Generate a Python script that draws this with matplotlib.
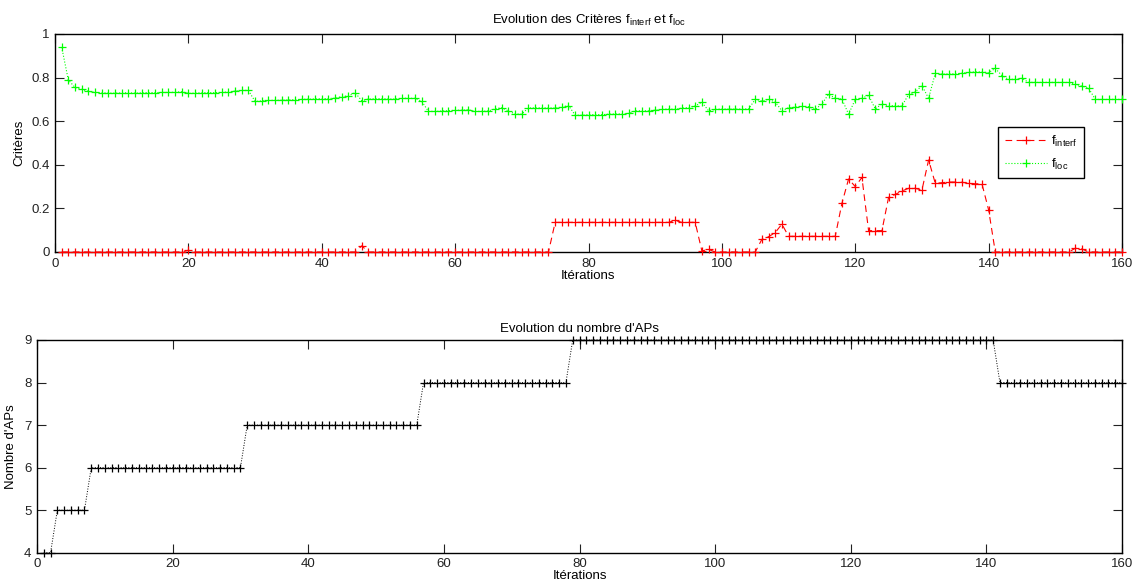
"""
Evolution des critères f_interf / f_loc et du nombre d'APs
"""

import matplotlib
matplotlib.use("Agg")
import matplotlib.pyplot as plt
from matplotlib.ticker import FormatStrFormatter

plt.rcParams["font.family"] = ["Liberation Sans", "DejaVu Sans"]
plt.rcParams["mathtext.fontset"] = "custom"
plt.rcParams["mathtext.rm"] = "Liberation Sans"
plt.rcParams["mathtext.it"] = "Liberation Sans"

FONT_SIZE = 9.5

# ---------------------------------------------------------------------------
# Data, iterations 1..160
# ---------------------------------------------------------------------------

iterations = list(range(1, 161))

f_interf = [
    0, 0, 0, 0, 0, 0, 0, 0, 0, 0, 0, 0, 0, 0, 0, 0, 0, 0, 0, 0.008,       # 1-20
    0, 0, 0, 0, 0, 0, 0, 0, 0, 0, 0, 0, 0, 0, 0, 0, 0, 0, 0, 0,           # 21-40
    0, 0, 0, 0, 0, 0.028, 0, 0, 0, 0, 0, 0, 0, 0, 0, 0, 0, 0, 0, 0,       # 41-60
    0, 0, 0, 0, 0, 0, 0, 0, 0, 0, 0, 0, 0, 0, 0.136, 0.136, 0.136, 0.136, 0.136, 0.136,  # 61-80
    0.136, 0.136, 0.136, 0.136, 0.136, 0.136, 0.136, 0.136, 0.136, 0.136,
    0.136, 0.136, 0.145, 0.136, 0.136, 0.136, 0.005, 0.012, 0, 0,         # 81-100
    0, 0, 0, 0, 0, 0.058, 0.07, 0.089, 0.128, 0.072,
    0.072, 0.072, 0.072, 0.072, 0.072, 0.072, 0.072, 0.223, 0.335, 0.30,  # 101-120
    0.342, 0.098, 0.098, 0.098, 0.251, 0.264, 0.28, 0.292, 0.292, 0.284,
    0.422, 0.315, 0.318, 0.321, 0.321, 0.320, 0.315, 0.313, 0.313, 0.193, # 121-140
    0, 0, 0, 0, 0, 0, 0, 0, 0, 0,
    0, 0, 0.017, 0.014, 0, 0, 0, 0, 0, 0,                                 # 141-160
]

f_loc = [
    0.94, 0.789, 0.755, 0.746, 0.737, 0.732, 0.730, 0.729, 0.729, 0.730,
    0.730, 0.729, 0.730, 0.731, 0.731, 0.732, 0.732, 0.733, 0.735, 0.728,  # 1-20
    0.729, 0.730, 0.731, 0.731, 0.732, 0.734, 0.739, 0.741, 0.741, 0.691,
    0.693, 0.695, 0.696, 0.697, 0.698, 0.699, 0.700, 0.701, 0.702, 0.703,  # 21-40
    0.704, 0.706, 0.713, 0.716, 0.731, 0.694, 0.702, 0.703, 0.703, 0.702,
    0.702, 0.705, 0.705, 0.705, 0.691, 0.645, 0.645, 0.647, 0.648, 0.650,  # 41-60
    0.651, 0.653, 0.645, 0.645, 0.647, 0.657, 0.662, 0.647, 0.633, 0.633,
    0.661, 0.661, 0.661, 0.661, 0.661, 0.664, 0.672, 0.628, 0.628, 0.630,  # 61-80
    0.630, 0.630, 0.632, 0.633, 0.633, 0.636, 0.647, 0.648, 0.648, 0.651,
    0.654, 0.656, 0.654, 0.660, 0.662, 0.670, 0.687, 0.648, 0.654, 0.656,  # 81-100
    0.656, 0.656, 0.656, 0.656, 0.700, 0.693, 0.700, 0.688, 0.648, 0.662,
    0.664, 0.668, 0.667, 0.654, 0.679, 0.724, 0.705, 0.702, 0.632, 0.700,  # 101-120
    0.705, 0.719, 0.656, 0.679, 0.671, 0.671, 0.670, 0.723, 0.734, 0.763,
    0.705, 0.820, 0.817, 0.817, 0.817, 0.820, 0.824, 0.826, 0.826, 0.823,  # 121-140
    0.842, 0.809, 0.792, 0.792, 0.797, 0.778, 0.778, 0.778, 0.778, 0.778,
    0.778, 0.778, 0.769, 0.761, 0.751, 0.700, 0.700, 0.700, 0.700, 0.700,  # 141-160
]

n_aps = [
    4, 4, 5, 5, 5, 5, 5, 6, 6, 6, 6, 6, 6, 6, 6, 6, 6, 6, 6, 6,           # 1-20
    6, 6, 6, 6, 6, 6, 6, 6, 6, 6, 7, 7, 7, 7, 7, 7, 7, 7, 7, 7,           # 21-40
    7, 7, 7, 7, 7, 7, 7, 7, 7, 7, 7, 7, 7, 7, 7, 7, 8, 8, 8, 8,           # 41-60
    8, 8, 8, 8, 8, 8, 8, 8, 8, 8, 8, 8, 8, 8, 8, 8, 8, 8, 9, 9,           # 61-80
    9, 9, 9, 9, 9, 9, 9, 9, 9, 9, 9, 9, 9, 9, 9, 9, 9, 9, 9, 9,           # 81-100
    9, 9, 9, 9, 9, 9, 9, 9, 9, 9, 9, 9, 9, 9, 9, 9, 9, 9, 9, 9,           # 101-120
    9, 9, 9, 9, 9, 9, 9, 9, 9, 9, 9, 9, 9, 9, 9, 9, 9, 9, 9, 9,           # 121-140
    9, 8, 8, 8, 8, 8, 8, 8, 8, 8, 8, 8, 8, 8, 8, 8, 8, 8, 8, 8,           # 141-160
]


# ---------------------------------------------------------------------------
# Helpers
# ---------------------------------------------------------------------------

def matlab_style(ax):
    """Inward ticks on all four sides, black box."""
    ax.tick_params(direction="in", length=6.5, width=0.8, top=True, right=True,
                   labelsize=FONT_SIZE, pad=4, colors="#222222")
    for s in ax.spines.values():
        s.set_linewidth(1.0)
        s.set_color("black")


W, H = 1139, 587
fig = plt.figure(figsize=(W / 100, H / 100), dpi=100)

# top panel: criteria
ax1 = fig.add_axes([55 / W, (H - 252) / H, 1067 / W, 218 / H])
ax1.plot(iterations, f_interf, "--+", color="red", lw=0.8, ms=6, mew=0.9,
         dashes=(6, 4), clip_on=False, zorder=3, label=r"f$_{\mathrm{interf}}$")
ax1.plot(iterations, f_loc, ":+", color="#00ff00", lw=0.8, ms=6, mew=0.9,
         clip_on=False, zorder=3, label=r"f$_{\mathrm{loc}}$")
ax1.set_xlim(0, 160)
ax1.set_ylim(0, 1)
ax1.set_xticks(range(0, 161, 20))
ax1.set_yticks([0, 0.2, 0.4, 0.6, 0.8, 1])
ax1.yaxis.set_major_formatter(FormatStrFormatter("%g"))
ax1.set_xlabel("Itérations", fontsize=FONT_SIZE, labelpad=0)
ax1.set_ylabel("Critères", fontsize=FONT_SIZE, labelpad=4)
ax1.set_title(r"Evolution des Critères f$_{\mathrm{interf}}$ et f$_{\mathrm{loc}}$",
              fontsize=FONT_SIZE, pad=7)
matlab_style(ax1)
leg = ax1.legend(loc="upper left", bbox_to_anchor=(0.884, 0.573), fontsize=FONT_SIZE,
                 frameon=True, fancybox=False, framealpha=1, edgecolor="black",
                 handlelength=3.2, numpoints=1, borderpad=0.5, labelspacing=0.6,
                 handletextpad=0.3, borderaxespad=0)
leg.get_frame().set_linewidth(1.0)
leg.set_zorder(5)

# bottom panel: number of APs
ax2 = fig.add_axes([37 / W, (H - 552.7) / H, 1085 / W, 212.7 / H])
ax2.plot(iterations, n_aps, ":+", color="black", lw=0.7, ms=6, mew=0.9,
         clip_on=False, zorder=3)
ax2.set_xlim(0, 160)
ax2.set_ylim(4, 9)
ax2.set_xticks(range(0, 161, 20))
ax2.set_yticks(range(4, 10))
ax2.set_xlabel("Itérations", fontsize=FONT_SIZE, labelpad=0)
ax2.set_ylabel("Nombre d'APs", fontsize=FONT_SIZE, labelpad=5)
ax2.set_title("Evolution du nombre d'APs", fontsize=FONT_SIZE, pad=6)
matlab_style(ax2)

fig.savefig("out.png", dpi=100)
